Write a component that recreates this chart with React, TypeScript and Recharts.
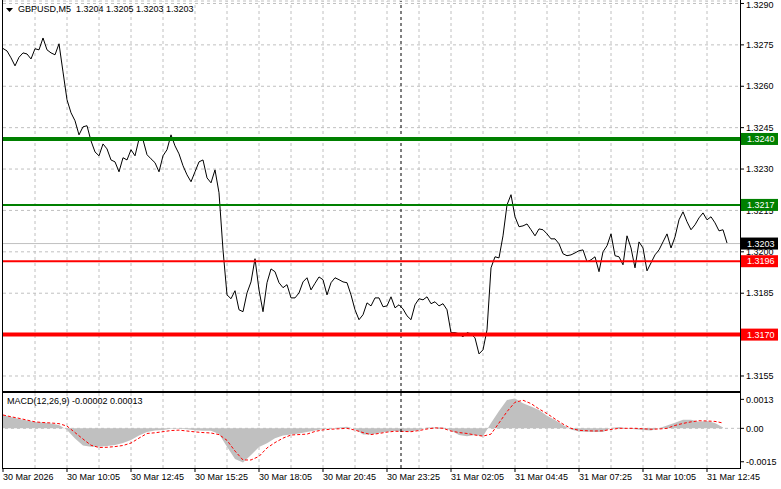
import React from 'react'
import { ComposedChart, Line, Area, XAxis, YAxis, ReferenceLine, CartesianGrid } from 'recharts'

// GBPUSD M5 closes, one value every 2 bars (bar 0 = 30 Mar 07:25)
const closes = [
  1.32737, 1.32728, 1.32703, 1.32674, 1.32705, 1.32721, 1.32717, 1.32699, 1.32736, 1.32732,
  1.32775, 1.32732, 1.32721, 1.32714, 1.32754, 1.32652, 1.32551, 1.32504, 1.32475, 1.32424,
  1.32453, 1.32457, 1.32402, 1.32362, 1.32348, 1.32391, 1.32373, 1.32333, 1.32326, 1.32290,
  1.32341, 1.32333, 1.32370, 1.32348, 1.32409, 1.32406, 1.32352, 1.32337, 1.32323, 1.32290,
  1.32348, 1.32370, 1.32424, 1.32384, 1.32355, 1.32312, 1.32279, 1.32254, 1.32290, 1.32326,
  1.32333, 1.32268, 1.32250, 1.32297, 1.32214, 1.32007, 1.31844, 1.31830, 1.31859, 1.31790,
  1.31783, 1.31851, 1.31891, 1.31975, 1.31862, 1.31783, 1.31888, 1.31938, 1.31928, 1.31888,
  1.31870, 1.31881, 1.31833, 1.31833, 1.31851, 1.31891, 1.31906, 1.31862, 1.31886, 1.31909,
  1.31899, 1.31844, 1.31888, 1.31906, 1.31899, 1.31891, 1.31888, 1.31844, 1.31790, 1.31754,
  1.31772, 1.31815, 1.31804, 1.31833, 1.31833, 1.31801, 1.31804, 1.31837, 1.31797, 1.31808,
  1.31793, 1.31768, 1.31754, 1.31808, 1.31830, 1.31826, 1.31837, 1.31812, 1.31819, 1.31804,
  1.31812, 1.31790, 1.31707, 1.31707, 1.31703, 1.31692, 1.31707, 1.31703, 1.31688, 1.31630,
  1.31645, 1.31717, 1.31942, 1.31982, 1.31978, 1.32058, 1.32170, 1.32207, 1.32127, 1.32091,
  1.32094, 1.32101, 1.32080, 1.32058, 1.32083, 1.32080, 1.32065, 1.32047, 1.32047, 1.32029,
  1.31993, 1.31986, 1.31989, 1.31996, 1.32004, 1.32007, 1.31964, 1.31971, 1.31982, 1.31928,
  1.32000, 1.32022, 1.32065, 1.31986, 1.31982, 1.31953, 1.32058, 1.32014, 1.31942, 1.32036,
  1.32014, 1.31931, 1.31960, 1.31989, 1.32007, 1.32036, 1.32065, 1.32014, 1.32054, 1.32116,
  1.32145, 1.32109, 1.32080, 1.32098, 1.32123, 1.32141, 1.32116, 1.32127, 1.32105, 1.32076,
  1.32080, 1.32032,
]
const barsPerClose = 2

// MACD(12,26,9), one value every 4 bars
const macdHist = [
  0.0006, 0.00051, 0.00042, 0.00035, 0.00028, 0.00026, 0.00022, 0.00015, -0.00008, -0.00046,
  -0.00077, -0.00083, -0.00083, -0.00079, -0.00075, -0.00066, -0.00052, -0.00032, -0.00017, -0.0001,
  -0.00008, -0.00002, -0.00002, -0.00004, -0.00009, -0.00011, -0.00011, -0.00026, -0.00083, -0.00138,
  -0.00153, -0.0012, -0.00084, -0.00067, -0.00044, -0.00032, -0.00028, -0.00023, -0.00017, -0.0001,
  -0.00003, -0.00001, 0.00004, 0.00007, -0.00003, -0.00028, -0.00028, -0.00021, -0.00015, -0.00012,
  -0.00014, -0.00014, -0.00008, 0.00004, 0.00004, 0.00004, -0.0001, -0.0003, -0.00035, -0.0003,
  -0.00035, 0.00024, 0.00078, 0.00127, 0.00134, 0.00112, 0.00098, 0.00082, 0.00057, 0.00037,
  0.00015, -0.00005, -0.00014, -0.00015, -0.00017, -0.00017, 0.00001, 0.00006, -0.00001, -0.00004,
  -0.00008, -0.0001, 0, 0.00013, 0.00025, 0.00039, 0.00039, 0.0003, 0.00033, 0.00024,
  0.00004,
]
const macdSignal = [
  0.0006, 0.00052, 0.00045, 0.00037, 0.00029, 0.00026, 0.00024, 0.00021, 0.0001, -0.00019,
  -0.00048, -0.00076, -0.00086, -0.00085, -0.00082, -0.00077, -0.00066, -0.00044, -0.00023, -0.0002,
  -0.00015, -0.0001, -0.00008, -0.00012, -0.00016, -0.00019, -0.00021, -0.00028, -0.00054, -0.00102,
  -0.00142, -0.00142, -0.00126, -0.00088, -0.00064, -0.00044, -0.0003, -0.00028, -0.00026, -0.00014,
  -0.00007, -0.00004, -0.00002, 0, -0.00008, -0.00019, -0.00028, -0.00023, -0.00017, -0.00013,
  -0.00014, -0.00015, -0.0001, -0.00003, 0.00002, 0, -0.00012, -0.00019, -0.00023, -0.0003,
  -0.00035, -0.00026, 0.00024, 0.00075, 0.00117, 0.00126, 0.00111, 0.00087, 0.00066, 0.00042,
  0.00019, 0, -0.00009, -0.00011, -0.00012, -0.00011, -0.00005, 0, 0, 0,
  -0.00002, -0.00004, -0.00003, 0, 0.00013, 0.00022, 0.00029, 0.00034, 0.00033, 0.00031,
  0.00024,
]
const barsPerMacd = 4

const timeLabels = [
  '30 Mar 2026', '30 Mar 10:05', '30 Mar 12:45', '30 Mar 15:25', '30 Mar 18:05', '30 Mar 20:45',
  '30 Mar 23:25', '31 Mar 02:05', '31 Mar 04:45', '31 Mar 07:25', '31 Mar 10:05', '31 Mar 12:45',
]
const barsPerLabel = 32
const barsPerGrid = 16
const separatorBar = 199 // 31 Mar 00:00

const priceTicks = [1.3155, 1.317, 1.3185, 1.32, 1.3215, 1.323, 1.3245, 1.326, 1.3275, 1.329]
const macdTicks = [-0.0015, 0, 0.0013]

const levelPrices = [1.32409, 1.3217, 1.31966, 1.317]
const levelLabels = ['1.3240', '1.3217', '1.3196', '1.3170']
const bidPrice = 1.3203

const quote = ['1.3204', '1.3205', '1.3203', '1.3203']
const macdNow = ['-0.00002', '0.00013']

const FONT = '"Liberation Sans", Arial, sans-serif'
const GRID = '#c0c0c0'
const levelColors = ['#008000', '#008000', '#ff0000', '#ff0000']
const levelWidths = [4, 2, 2, 4]

const priceData = closes.map((c, i) => ({ bar: i * barsPerClose, close: c }))
const macdData = macdHist.map((h, i) => ({ bar: i * barsPerMacd, hist: h, signal: macdSignal[i] }))
const labelBars = timeLabels.map((_, i) => i * barsPerLabel)
const gridBars: number[] = []
for (let b = barsPerGrid; b < 368; b += barsPerGrid) gridBars.push(b)

const X_DOMAIN: [number, number] = [0, 368.5]
const PRICE_DOMAIN: [number, number] = [1.31492, 1.32909]

function PriceTag(props: any) {
  const { viewBox, text, bg } = props
  if (!viewBox) return null
  const x = viewBox.x + viewBox.width + 1
  const y = viewBox.y
  return (
    <g>
      <rect x={x} y={y - 6} width={37} height={12} fill={bg} />
      <text x={x + 6} y={y} dy="0.36em" fontSize={9} fill="#fff" fontFamily={FONT}>{text}</text>
    </g>
  )
}

function TimeTick(props: any) {
  const { x, y, payload } = props
  const label = timeLabels[Math.round(payload.value / barsPerLabel)]
  return (
    <text x={x} y={y} dy="0.71em" fontSize={9} fill="#000" fontFamily={FONT} textAnchor="start">
      {label}
    </text>
  )
}

export default function App() {
  const tick = { fill: '#000', fontSize: 9, fontFamily: FONT }
  return (
    <div style={{ position: 'absolute', left: 0, top: 0, width: 781, height: 489, background: '#fff', fontFamily: FONT }}>
      <div style={{ position: 'absolute', left: 0, top: 0 }}>
        <ComposedChart width={781} height={392} data={priceData} margin={{ top: 1, right: 0, bottom: 0, left: 3 }}>
          <XAxis type="number" dataKey="bar" domain={X_DOMAIN} allowDataOverflow hide />
          <YAxis
            orientation="right"
            type="number"
            domain={PRICE_DOMAIN}
            allowDataOverflow
            ticks={priceTicks}
            width={41}
            axisLine={false}
            tickLine={{ stroke: '#000' }}
            tickSize={4}
            tickMargin={2}
            tick={tick}
            tickFormatter={(v: number) => v.toFixed(4)}
          />
          <CartesianGrid vertical={false} stroke={GRID} strokeDasharray="3 3" />
          {gridBars.map((b) => (
            <ReferenceLine key={b} x={b} stroke={GRID} strokeDasharray="3 3" />
          ))}
          <ReferenceLine x={separatorBar} stroke="#000" strokeDasharray="3 3" />
          <ReferenceLine y={bidPrice} stroke={GRID} />
          <Line type="linear" dataKey="close" stroke="#000" strokeWidth={1} dot={false} isAnimationActive={false} />
        </ComposedChart>
      </div>

      {/* horizontal levels and price tags drawn above the axis labels */}
      <div style={{ position: 'absolute', left: 0, top: 0, pointerEvents: 'none' }}>
        <ComposedChart width={781} height={392} data={priceData} margin={{ top: 1, right: 41, bottom: 0, left: 3 }}>
          <XAxis type="number" dataKey="bar" domain={X_DOMAIN} allowDataOverflow hide />
          <YAxis type="number" domain={PRICE_DOMAIN} allowDataOverflow hide />
          <ReferenceLine
            y={bidPrice}
            stroke="none"
            label={<PriceTag text={bidPrice.toFixed(4)} bg="#000" />}
          />
          {levelPrices.map((p, i) => (
            <ReferenceLine
              key={p}
              y={p}
              stroke={levelColors[i]}
              strokeWidth={levelWidths[i]}
              label={<PriceTag text={levelLabels[i]} bg={levelColors[i]} />}
            />
          ))}
        </ComposedChart>
      </div>

      <div style={{ position: 'absolute', left: 0, top: 392 }}>
        <ComposedChart width={781} height={97} data={macdData} margin={{ top: 0, right: 0, bottom: 0, left: 3 }}>
          <XAxis
            type="number"
            dataKey="bar"
            domain={X_DOMAIN}
            allowDataOverflow
            ticks={labelBars}
            height={21}
            axisLine={false}
            tickLine={{ stroke: '#000' }}
            tickSize={4}
            tickMargin={2}
            tick={<TimeTick />}
            interval={0}
          />
          <YAxis
            orientation="right"
            type="number"
            domain={[-0.00178, 0.00163]}
            allowDataOverflow
            ticks={macdTicks}
            width={41}
            axisLine={false}
            tickLine={{ stroke: '#000' }}
            tickSize={4}
            tickMargin={2}
            tick={tick}
            tickFormatter={(v: number) => (v === 0 ? '0.00' : v.toFixed(4))}
          />
          {gridBars.map((b) => (
            <ReferenceLine key={b} x={b} stroke={GRID} strokeDasharray="3 3" />
          ))}
          <ReferenceLine y={0} stroke={GRID} strokeDasharray="3 3" />
          <Area type="linear" dataKey="hist" baseValue={0} fill="#c0c0c0" fillOpacity={1} stroke="none" isAnimationActive={false} />
          <Line type="linear" dataKey="signal" stroke="#ff0000" strokeWidth={1} strokeDasharray="3 2" dot={false} isAnimationActive={false} />
          <ReferenceLine x={separatorBar} stroke="#000" strokeDasharray="3 3" />
        </ComposedChart>
      </div>

      {/* panel frames */}
      <div style={{ position: 'absolute', left: 2, top: 0, width: 739, height: 392, boxSizing: 'border-box', borderLeft: '1px solid #000', borderRight: '1px solid #000', borderBottom: '1px solid #000', pointerEvents: 'none' }} />
      <div style={{ position: 'absolute', left: 2, top: 392, width: 739, height: 77, boxSizing: 'border-box', border: '1px solid #000', pointerEvents: 'none' }} />

      {/* header */}
      <svg style={{ position: 'absolute', left: 6, top: 8 }} width={8} height={5}>
        <polygon points="0,0 7,0 3.5,4" fill="#000" />
      </svg>
      <div style={{ position: 'absolute', left: 18, top: 4, fontSize: 9, lineHeight: '11px', whiteSpace: 'pre', color: '#000' }}>
        {'GBPUSD,M5  ' + quote.join(' ')}
      </div>
      <div style={{ position: 'absolute', left: 7, top: 396, fontSize: 9, lineHeight: '11px', whiteSpace: 'pre', color: '#000' }}>
        {'MACD(12,26,9) ' + macdNow.join(' ')}
      </div>
    </div>
  )
}
